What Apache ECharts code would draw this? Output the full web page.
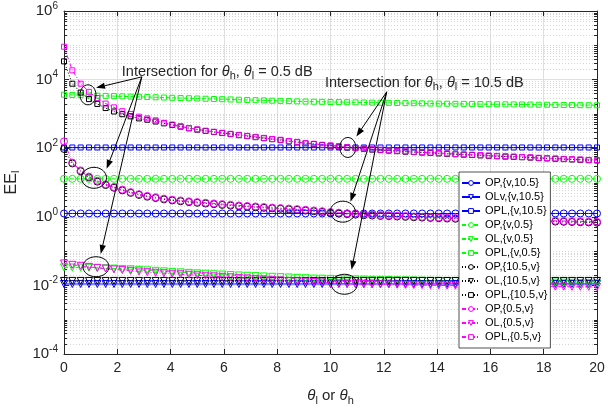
<!DOCTYPE html>
<html>
<head>
<meta charset="utf-8">
<script src="https://cdn.jsdelivr.net/npm/echarts@6/dist/echarts.min.js"></script>
<style>
html, body { margin: 0; padding: 0; background: #fff; }
#main { width: 608px; height: 413px; }
</style>
</head>
<body>
<div id="main"></div>
<script>
// theta (dB) sample points
var theta = [0, 0.3125, 0.625, 0.9375, 1.25, 1.5625, 1.875, 2.1875, 2.5, 2.8125, 3.125, 3.4375, 3.75,
    4.0625, 4.375, 4.6875, 5, 5.3125, 5.625, 5.9375, 6.25, 6.5625, 6.875, 7.1875, 7.5, 7.8125,
    8.125, 8.4375, 8.75, 9.0625, 9.375, 9.6875, 10, 10.3125, 10.625, 10.9375, 11.25, 11.5625, 11.875,
    12.1875, 12.5, 12.8125, 13.125, 13.4375, 13.75, 14.0625, 14.375, 14.6875, 15, 15.3125, 15.625,
    15.9375, 16.25, 16.5625, 16.875, 17.1875, 17.5, 17.8125, 18.125, 18.4375, 18.75, 19.0625,
    19.375, 19.6875, 20];

// {v,10.5}
var opV105 = [1.25, 1.25, 1.25, 1.25, 1.25, 1.25, 1.25, 1.25, 1.25, 1.25, 1.25, 1.25, 1.25,
    1.25, 1.25, 1.25, 1.25, 1.25, 1.25, 1.25, 1.25, 1.25, 1.25, 1.25, 1.25, 1.25,
    1.25, 1.25, 1.25, 1.25, 1.25, 1.25, 1.25, 1.25, 1.25, 1.25, 1.25, 1.25, 1.25,
    1.25, 1.25, 1.25, 1.25, 1.25, 1.25, 1.25, 1.25, 1.25, 1.25, 1.25, 1.25, 1.25,
    1.25, 1.25, 1.25, 1.25, 1.25, 1.25, 1.25, 1.25, 1.25, 1.25, 1.25, 1.25, 1.25];
var olV105 = [0.011, 0.011, 0.011, 0.011, 0.011, 0.011, 0.011, 0.011, 0.011, 0.011, 0.011, 0.011, 0.011,
    0.011, 0.011, 0.011, 0.011, 0.011, 0.011, 0.011, 0.011, 0.011, 0.011, 0.011, 0.011, 0.011,
    0.011, 0.011, 0.011, 0.011, 0.011, 0.011, 0.011, 0.011, 0.011, 0.011, 0.011, 0.011, 0.011,
    0.011, 0.011, 0.011, 0.011, 0.011, 0.011, 0.011, 0.011, 0.011, 0.011, 0.011, 0.011, 0.011,
    0.011, 0.011, 0.011, 0.011, 0.011, 0.011, 0.011, 0.011, 0.011, 0.011, 0.011, 0.011, 0.011];
var oplV105 = [105, 105, 105, 105, 105, 105, 105, 105, 105, 105, 105, 105, 105,
    105, 105, 105, 105, 105, 105, 105, 105, 105, 105, 105, 105, 105,
    105, 105, 105, 105, 105, 105, 105, 105, 105, 105, 105, 105, 105,
    105, 105, 105, 105, 105, 105, 105, 105, 105, 105, 105, 105, 105,
    105, 105, 105, 105, 105, 105, 105, 105, 105, 105, 105, 105, 105];

// {v,0.5}
var opV05 = [12.8, 12.8, 12.8, 12.8, 12.8, 12.8, 12.8, 12.8, 12.8, 12.8, 12.8, 12.8, 12.8,
    12.8, 12.8, 12.8, 12.8, 12.8, 12.8, 12.8, 12.8, 12.8, 12.8, 12.8, 12.8, 12.8,
    12.8, 12.8, 12.8, 12.8, 12.8, 12.8, 12.8, 12.8, 12.8, 12.8, 12.8, 12.8, 12.8,
    12.8, 12.8, 12.8, 12.8, 12.8, 12.8, 12.8, 12.8, 12.8, 12.8, 12.8, 12.8, 12.8,
    12.8, 12.8, 12.8, 12.8, 12.8, 12.8, 12.8, 12.8, 12.8, 12.8, 12.8, 12.8, 12.8];
var olV05 = [0.0335, 0.0333, 0.0330, 0.0327, 0.0324, 0.0316, 0.0309, 0.0302, 0.0295, 0.0285, 0.0275, 0.0266, 0.0257,
    0.0248, 0.0240, 0.0232, 0.0224, 0.0219, 0.0211, 0.0207, 0.0200, 0.0195, 0.0191, 0.0186, 0.0182, 0.0178,
    0.0174, 0.0170, 0.0166, 0.0162, 0.0158, 0.0157, 0.0155, 0.0153, 0.0151, 0.0150, 0.0148, 0.0146, 0.0145,
    0.0143, 0.0141, 0.0140, 0.0139, 0.0137, 0.0136, 0.0135, 0.0134, 0.0133, 0.0132, 0.0131, 0.0130, 0.0129,
    0.0128, 0.0127, 0.0126, 0.0125, 0.0124, 0.0123, 0.0122, 0.0121, 0.0120, 0.0119, 0.0118, 0.0118, 0.0117];
var oplV05 = [3630, 3570, 3520, 3460, 3400, 3350, 3300, 3240, 3190, 3150, 3100, 3050, 3000,
    2950, 2900, 2860, 2810, 2770, 2720, 2680, 2640, 2590, 2550, 2510, 2470, 2430,
    2400, 2360, 2320, 2290, 2270, 2250, 2230, 2210, 2190, 2170, 2150, 2130, 2120,
    2100, 2080, 2060, 2050, 2030, 2010, 1990, 1980, 1970, 1960, 1950, 1930, 1920,
    1910, 1900, 1890, 1880, 1870, 1850, 1850, 1830, 1820, 1810, 1800, 1790, 1780];

// {10.5,v}
var op105V = [95, 36, 21.3, 14.1, 10.6, 8.45, 7.03, 5.89, 4.99, 4.34, 3.87, 3.53, 3.22,
    3.0, 2.84, 2.68, 2.56, 2.44, 2.33, 2.22, 2.13, 2.03, 1.97, 1.90, 1.83, 1.77,
    1.71, 1.65, 1.60, 1.52, 1.45, 1.39, 1.31, 1.25, 1.20, 1.16, 1.11, 1.09, 1.06,
    1.05, 1.02, 1.0, 0.97, 0.95, 0.928, 0.912, 0.893, 0.879, 0.863, 0.846, 0.833, 0.82,
    0.807, 0.794, 0.781, 0.769, 0.756, 0.746, 0.735, 0.726, 0.715, 0.706, 0.696, 0.687, 0.677];
var ol105V = [0.0135, 0.0135, 0.0135, 0.0135, 0.0135, 0.0135, 0.0135, 0.0135, 0.0135, 0.0135, 0.0135, 0.0135, 0.0135,
    0.0135, 0.0135, 0.0135, 0.0135, 0.0135, 0.0135, 0.0135, 0.0135, 0.0135, 0.0135, 0.0135, 0.0135, 0.0135,
    0.0135, 0.0135, 0.0135, 0.0135, 0.0135, 0.0135, 0.0135, 0.0135, 0.0135, 0.0135, 0.0135, 0.0135, 0.0135,
    0.0135, 0.0135, 0.0135, 0.0135, 0.0135, 0.0135, 0.0135, 0.0135, 0.0135, 0.0135, 0.0135, 0.0135, 0.0135,
    0.0135, 0.0135, 0.0135, 0.0135, 0.0135, 0.0135, 0.0135, 0.0135, 0.0135, 0.0135, 0.0135, 0.0135, 0.0135];
var opl105V = [34000, 7600, 4200, 2700, 1950, 1480, 1175, 980, 850, 740, 676, 600, 530,
    475, 425, 380, 347, 317, 296, 276, 258, 240, 225, 210, 196, 183,
    172, 159, 150, 139, 132, 124, 118, 112, 105, 100, 96, 91, 88,
    85, 82, 79, 77, 74.5, 72.5, 70.5, 68.6, 66.6, 64.7, 63.2, 61.7, 59.8,
    58.4, 57, 55.8, 54.5, 53.2, 51.5, 50.3, 49.1, 48, 46.9, 45.9, 44.8, 43.8];

// {0.5,v}
var op05V = [158, 38, 22.4, 14.8, 11.2, 8.9, 7.4, 6.2, 5.25, 4.57, 4.07, 3.72, 3.39,
    3.16, 2.99, 2.82, 2.69, 2.57, 2.45, 2.34, 2.24, 2.14, 2.07, 2.0, 1.93, 1.86,
    1.80, 1.74, 1.68, 1.60, 1.53, 1.46, 1.38, 1.32, 1.26, 1.22, 1.17, 1.15, 1.12,
    1.10, 1.07, 1.05, 1.02, 1.0, 0.977, 0.96, 0.94, 0.925, 0.908, 0.89, 0.877, 0.863,
    0.849, 0.836, 0.822, 0.809, 0.796, 0.785, 0.774, 0.764, 0.753, 0.743, 0.733, 0.723, 0.713];
var ol05V = [0.0437, 0.0398, 0.0372, 0.0347, 0.0324, 0.0309, 0.0292, 0.0279, 0.0266, 0.0254, 0.0243, 0.0234, 0.0226,
    0.0219, 0.0211, 0.0204, 0.0197, 0.0191, 0.0184, 0.0178, 0.0172, 0.0166, 0.0160, 0.0155, 0.0150, 0.0145,
    0.0140, 0.0135, 0.0132, 0.0129, 0.0126, 0.0122, 0.0117, 0.0115, 0.0112, 0.0111, 0.0110, 0.0108, 0.0107,
    0.0106, 0.0105, 0.0104, 0.0103, 0.0102, 0.0101, 0.0100, 0.0099, 0.0098, 0.0098, 0.0097, 0.0096, 0.0096,
    0.0095, 0.0095, 0.0094, 0.0094, 0.0093, 0.0093, 0.0092, 0.0092, 0.0092, 0.0091, 0.0091, 0.0091, 0.0090];
var opl05V = [91000, 18600, 7600, 4400, 2900, 2000, 1550, 1200, 1000, 830, 740, 650, 550,
    490, 437, 389, 355, 324, 302, 282, 263, 245, 229, 214, 200, 186,
    176, 162, 153, 141, 135, 126, 120, 114, 107, 102, 98, 93, 90,
    87, 84, 81, 78.5, 76, 74, 72, 70, 68, 66, 64.5, 63, 61,
    59.6, 58.2, 56.9, 55.6, 54.3, 52.5, 51.3, 50.1, 49, 47.9, 46.8, 45.7, 44.7];

// annotation anchors, in data units [theta, EE]
var note05 = {at: [2.17, 16900], from: [2.92, 12000],
    to: [[1.20, 5750], [1.60, 25], [1.38, 0.083]],
    rings: [[0.90, 3600], [1.125, 13.7], [1.2, 0.035]]};
var note105 = {at: [9.79, 8070], from: [12.11, 4400],
    to: [[10.97, 219], [10.75, 2.75], [10.79, 0.0285]],
    rings: [[10.65, 105], [10.46, 1.41], [10.52, 0.0108]]};

var FONT = '"Liberation Sans", Arial, sans-serif';
var AX = '#262626';
var BLUE = '#0000ff', GREEN = '#00ff00', BLACK = '#000000', PINK = '#ff00ff';

function curve(name, vals, color, dash, symbol, size, rot) {
    return {
        name: name,
        type: 'line',
        data: theta.map(function (t, i) { return [t, vals[i]]; }),
        symbol: symbol,
        symbolSize: size,
        symbolRotate: rot || 0,
        showAllSymbol: true,
        lineStyle: {color: color, width: 1, type: dash},
        itemStyle: {color: 'rgba(255,255,255,0)', borderColor: color, borderWidth: 1},
        emphasis: {disabled: true},
        animation: false
    };
}

var series = [
    curve('OP,{v,10.5}', opV105, BLUE, 'solid', 'circle', 7),
    curve('OLv,{v,10.5}', olV105, BLUE, 'solid', 'triangle', 7, 180),
    curve('OPL,{v,10.5}', oplV105, BLUE, 'solid', 'rect', 5),
    curve('OP,{v,0.5}', opV05, GREEN, [4, 2], 'circle', 7),
    curve('OL,{v,0.5}', olV05, GREEN, [4, 2], 'triangle', 7, 180),
    curve('OPL,{v,0.5}', oplV05, GREEN, [4, 2], 'rect', 5),
    curve('OP,{10.5,v}', op105V, BLACK, [1, 2], 'circle', 7),
    curve('OL,{10.5,v}', ol105V, BLACK, [1, 2], 'triangle', 7, 180),
    curve('OPL,{10.5,v}', opl105V, BLACK, [1, 2], 'rect', 5),
    curve('OP,{0.5,v}', op05V, PINK, [4, 2, 1, 2], 'circle', 7),
    curve('OL,{0.5,v}', ol05V, PINK, [4, 2, 1, 2], 'triangle', 7, 180),
    curve('OPL,{0.5,v}', opl05V, PINK, [4, 2, 1, 2], 'rect', 5)
];

function xAx(pos, showLabel) {
    return {
        type: 'value', position: pos, min: 0, max: 20, interval: 2,
        axisLine: {show: true, onZero: false, lineStyle: {color: AX, width: 1}},
        axisTick: {show: true, inside: true, length: 5, lineStyle: {color: AX}},
        axisLabel: {show: showLabel, color: AX, fontFamily: FONT, fontSize: 14, margin: 7},
        splitLine: {show: showLabel, lineStyle: {color: '#dfdfdf', width: 1}},
        name: showLabel ? '{i|θ}{s|l}{n| or }{i|θ}{s|h}' : '',
        nameLocation: 'middle', nameGap: 32,
        nameTextStyle: {
            rich: {
                i: {fontFamily: FONT, fontSize: 15, fontStyle: 'italic', color: AX},
                n: {fontFamily: FONT, fontSize: 15, color: AX},
                s: {fontFamily: FONT, fontSize: 11, color: AX, padding: [9, 0, 0, 0]}
            }
        }
    };
}

function yAx(pos, showLabel) {
    return {
        type: 'log', logBase: 10, position: pos, min: 1e-4, max: 1e6, interval: 2,
        axisLine: {show: true, onZero: false, lineStyle: {color: AX, width: 1}},
        axisTick: {show: true, inside: true, length: 5, lineStyle: {color: AX}},
        axisLabel: {
            show: showLabel, margin: 6,
            formatter: function (v) {
                return '{b|10}{e|' + Math.round(Math.log10(v)) + '}';
            },
            rich: {
                b: {fontFamily: FONT, fontSize: 15, color: AX},
                e: {fontFamily: FONT, fontSize: 10, color: AX, padding: [0, 0, 10, 0]}
            }
        },
        splitLine: {show: showLabel, lineStyle: {color: '#dfdfdf', width: 1}},
        name: showLabel ? '{n|EE}{s|l}' : '',
        nameLocation: 'middle', nameGap: 37, nameRotate: 90,
        nameTextStyle: {
            rich: {
                n: {fontFamily: FONT, fontSize: 16, color: AX},
                s: {fontFamily: FONT, fontSize: 11, color: AX, padding: [9, 0, 0, 0]}
            }
        }
    };
}

var option = {
    backgroundColor: '#fff',
    animation: false,
    grid: {left: 64, right: 11, top: 11, bottom: 59, containLabel: false, outerBoundsMode: 'none'},
    xAxis: [xAx('bottom', true), xAx('top', false)],
    yAxis: [yAx('left', true), yAx('right', false)],
    legend: {
        orient: 'vertical', left: 459, top: 172,
        itemWidth: 18, itemHeight: 6, itemGap: 2,
        padding: [5, 3, 5, 2],
        backgroundColor: '#fff', borderColor: AX, borderWidth: 0.8, borderRadius: 0,
        textStyle: {fontFamily: FONT, fontSize: 11, color: '#000', lineHeight: 12},
        data: series.map(function (s) {
            return {name: s.name, itemStyle: {color: '#fff', borderColor: s.lineStyle.color, borderWidth: 1}};
        })
    },
    series: series
};

var chart = echarts.init(document.getElementById('main'));
chart.setOption(option);

function px(p) { return chart.convertToPixel({xAxisIndex: 0, yAxisIndex: 0}, p); }

var g = [];
var xl = px([0, 1])[0], xr = px([20, 1])[0];
// log minor grid + minor ticks
for (var k = -4; k < 6; k++) {
    for (var m = 2; m <= 10; m++) {
        if (m === 10 && (k + 1) % 2 === 0) continue;
        var yy = Math.round(px([0, m * Math.pow(10, k)])[1]) + 0.5;
        g.push({type: 'line', silent: true, z: 0,
            shape: {x1: xl, y1: yy, x2: xr, y2: yy},
            style: {stroke: '#c4c4c4', lineWidth: 0.7, lineDash: [1, 2]}});
        g.push({type: 'line', silent: true, z: 1,
            shape: {x1: xl, y1: yy, x2: xl + 3, y2: yy}, style: {stroke: AX, lineWidth: 1}});
        g.push({type: 'line', silent: true, z: 1,
            shape: {x1: xr - 3, y1: yy, x2: xr, y2: yy}, style: {stroke: AX, lineWidth: 1}});
    }
}

var noteRich = {
    n: {fontFamily: FONT, fontSize: 14.5, fill: AX},
    i: {fontFamily: FONT, fontSize: 14.5, fontStyle: 'italic', fill: AX},
    s: {fontFamily: FONT, fontSize: 11, fill: AX, padding: [9, 0, 0, 0]}
};

function addNote(note, label) {
    var p0 = px(note.at);
    g.push({type: 'text', silent: true, z: 50, x: p0[0], y: p0[1],
        style: {text: '{n|Intersection for }{i|θ}{s|h}{n|, }{i|θ}{s|l}{n| = ' + label + ' dB}',
            rich: noteRich, verticalAlign: 'middle', fill: AX}});
    var o = px(note.from);
    note.to.forEach(function (t) {
        var h = px(t);
        var dx = h[0] - o[0], dy = h[1] - o[1], len = Math.sqrt(dx * dx + dy * dy);
        var ux = dx / len, uy = dy / len, L = 9, W = 3.2;
        var bx = h[0] - ux * L, by = h[1] - uy * L;
        g.push({type: 'line', silent: true, z: 50,
            shape: {x1: o[0], y1: o[1], x2: bx, y2: by}, style: {stroke: '#000', lineWidth: 1}});
        g.push({type: 'polygon', silent: true, z: 50,
            shape: {points: [h, [bx - uy * W, by + ux * W], [bx + uy * W, by - ux * W]]},
            style: {fill: '#000'}});
    });
    var r = [[8, 10], [12.5, 10.5], [13, 10]];
    note.rings.forEach(function (c, i) {
        var q = px(c);
        g.push({type: 'ellipse', silent: true, z: 50,
            shape: {cx: q[0], cy: q[1], rx: r[i][0], ry: r[i][1]},
            style: {fill: null, stroke: '#000', lineWidth: 1}});
    });
}
addNote(note05, '0.5');
addNote(note105, '10.5');

chart.setOption({graphic: {elements: g}});
</script>
</body>
</html>
